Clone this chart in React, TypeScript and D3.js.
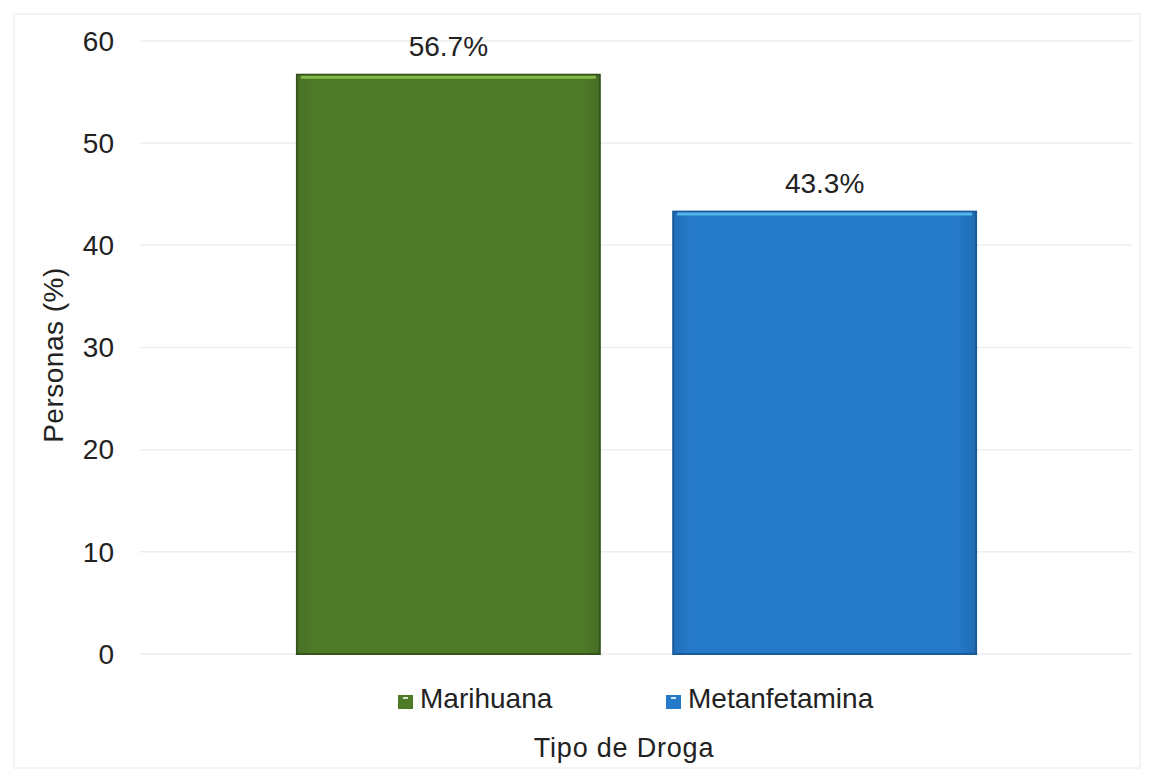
import React from "react";
import * as d3 from "d3";

const categories = ["Marihuana", "Metanfetamina"];
const values = [56.7, 43.3];
const labels = ["56.7%", "43.3%"];
const yTicks = [0, 10, 20, 30, 40, 50, 60];

const W = 1153;
const H = 780;
const FONT = "'Liberation Sans', Arial, sans-serif";

const fills = ["#4f7b28", "#2479c9"];
const strokes = ["#35541b", "#1a5a98"];
const highlights = ["#82b948", "#55b3ec"];
const legendX = [398, 666];

export default function App() {
  const y = d3.scaleLinear().domain([0, 60]).range([654, 41]);
  const x = d3
    .scaleBand<string>()
    .domain(categories)
    .range([140, 1133])
    .paddingInner(0.195)
    .paddingOuter(0.417);
  const bw = x.bandwidth();

  return (
    <svg
      width={W}
      height={H}
      style={{ position: "absolute", left: 0, top: 0, background: "#fff" }}
      fontFamily={FONT}
    >
      <defs>
        {fills.map((f, i) => (
          <linearGradient key={i} id={`bar${i}`} x1="0" x2="1" y1="0" y2="0">
            <stop offset="0" stopColor={d3.color(f)!.darker(0.25).toString()} />
            <stop offset="0.06" stopColor={f} />
            <stop offset="0.94" stopColor={f} />
            <stop offset="1" stopColor={d3.color(f)!.darker(0.35).toString()} />
          </linearGradient>
        ))}
      </defs>
      <rect x={14} y={14} width={1126} height={754} fill="none" stroke="#efefef" strokeWidth={1.5} />

      {yTicks.map((t) => (
        <g key={t}>
          <line x1={140} x2={1133} y1={y(t)} y2={y(t)} stroke="#eeeeee" strokeWidth={1.5} />
          <text x={114} y={y(t)} dy="0.35em" textAnchor="end" fontSize={28} fill="#222">
            {t}
          </text>
        </g>
      ))}

      {categories.map((c, i) => {
        const x0 = x(c)!;
        const top = y(values[i]);
        const h = y(0) - top;
        return (
          <g key={c}>
            <rect x={x0} y={top} width={bw} height={h} fill={`url(#bar${i})`} stroke={strokes[i]} strokeWidth={2} />
            <line x1={x0 + 4} x2={x0 + bw - 4} y1={top + 2.5} y2={top + 2.5} stroke={highlights[i]} strokeWidth={3} />
            <text x={x0 + bw / 2} y={top - 19} textAnchor="middle" fontSize={28} fill="#222">
              {labels[i]}
            </text>
          </g>
        );
      })}

      <text
        transform={`translate(63, 355) rotate(-90)`}
        textAnchor="middle"
        fontSize={28}
        letterSpacing={0.5}
        fill="#222"
      >
        Personas (%)
      </text>

      {categories.map((c, i) => {
        const lx = legendX[i];
        return (
          <g key={`lg-${c}`}>
            <rect x={lx} y={695} width={15} height={14} fill={fills[i]} />
            <rect x={lx + 5} y={697} width={5} height={2} fill="#fff" opacity={0.8} />
            <text x={lx + 22} y={708} fontSize={28} fill="#222">
              {c}
            </text>
          </g>
        );
      })}

      <text x={624} y={757} textAnchor="middle" fontSize={27} letterSpacing={0.8} fill="#222">
        Tipo de Droga
      </text>
    </svg>
  );
}
